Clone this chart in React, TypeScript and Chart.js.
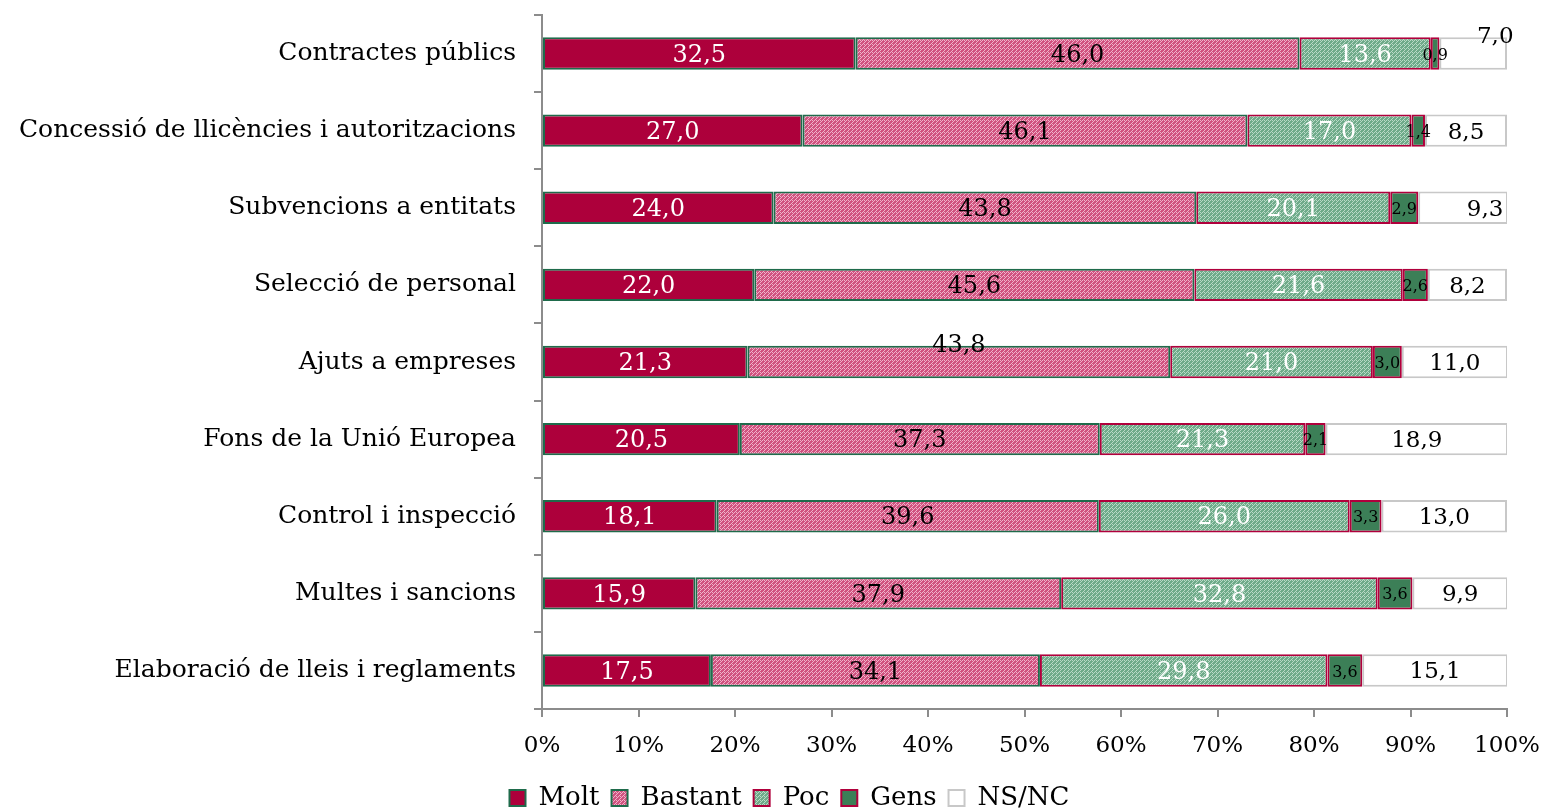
import React, { useEffect, useRef } from "react";
import { Chart, registerables } from "chart.js";

Chart.register(...registerables);

const categories = [
  "Contractes públics",
  "Concessió de llicències i autoritzacions",
  "Subvencions a entitats",
  "Selecció de personal",
  "Ajuts a empreses",
  "Fons de la Unió Europea",
  "Control i inspecció",
  "Multes i sancions",
  "Elaboració de lleis i reglaments",
];

const seriesNames = ["Molt", "Bastant", "Poc", "Gens", "NS/NC"];

const molt = [32.5, 27.0, 24.0, 22.0, 21.3, 20.5, 18.1, 15.9, 17.5];
const bastant = [46.0, 46.1, 43.8, 45.6, 43.8, 37.3, 39.6, 37.9, 34.1];
const poc = [13.6, 17.0, 20.1, 21.6, 21.0, 21.3, 26.0, 32.8, 29.8];
const gens = [0.9, 1.4, 2.9, 2.6, 3.0, 2.1, 3.3, 3.6, 3.6];
const nsnc = [7.0, 8.5, 9.3, 8.2, 11.0, 18.9, 13.0, 9.9, 15.1];

const xTicks = [0, 10, 20, 30, 40, 50, 60, 70, 80, 90, 100];

// label offsets (dataset index, category index) -> [dx, dy]
const labelOffsets: Record<string, [number, number]> = {
  "4-0": [22, -19],
  "1-4": [0, -18],
  "4-2": [22, 0],
};

const FONT = "'DejaVu Serif', serif";

function makePattern(base: string, light: string): CanvasPattern | string {
  const c = document.createElement("canvas");
  c.width = 4;
  c.height = 4;
  const ctx = c.getContext("2d");
  if (!ctx) return base;
  ctx.fillStyle = base;
  ctx.fillRect(0, 0, 4, 4);
  ctx.fillStyle = light;
  const pts = [[0, 0], [2, 0], [0, 2], [1, 1], [3, 3]];
  pts.forEach(([x, y]) => ctx.fillRect(x, y, 1, 1));
  const p = ctx.createPattern(c, "repeat");
  return p || base;
}

export default function App() {
  const ref = useRef<HTMLCanvasElement>(null);

  useEffect(() => {
    document.body.style.margin = "0";
    const canvas = ref.current;
    if (!canvas) return;

    const pinkPat = makePattern("#D0527F", "#F0B2CA");
    const greenPat = makePattern("#6EAA89", "#B8DAC6");

    const values = [molt, bastant, poc, gens, nsnc];
    const bg = ["#AD003B", pinkPat, greenPat, "#3C7F57", "#FFFFFF"];
    const border = ["#1F6B4B", "#1F6B4B", "#B0003C", "#B0003C", "#C8C8C8"];
    const labelColor = ["#FFFFFF", "#000000", "#FFFFFF", "#000000", "#000000"];
    const labelSize = [24, 24, 24, 16, 23];

    const labelPlugin = {
      id: "segLabels",
      afterLayout(chart: any) {
        const lg = chart.legend;
        if (lg) {
          lg.left += 36;
          lg.right += 36;
        }
      },
      afterDatasetsDraw(chart: any) {
        const ctx = chart.ctx;
        ctx.save();
        ctx.textAlign = "center";
        ctx.textBaseline = "middle";
        chart.data.datasets.forEach((ds: any, di: number) => {
          const meta = chart.getDatasetMeta(di);
          meta.data.forEach((el: any, i: number) => {
            const v = ds.data[i];
            const cx = (el.x + el.base) / 2;
            const off = labelOffsets[`${di}-${i}`] || [0, 0];
            ctx.font = `${labelSize[di]}px ${FONT}`;
            ctx.fillStyle = labelColor[di];
            ctx.fillText(v.toFixed(1).replace(".", ","), cx + off[0], el.y + 2 + off[1]);
          });
        });
        ctx.restore();
      },
    };

    const chart = new Chart(canvas, {
      type: "bar",
      data: {
        labels: categories,
        datasets: seriesNames.map((name, di) => ({
          label: name,
          data: values[di],
          backgroundColor: bg[di] as any,
          borderColor: border[di],
          borderWidth: 2,
          borderSkipped: false,
          barPercentage: 0.42,
          categoryPercentage: 1.0,
        })),
      },
      options: {
        indexAxis: "y",
        animation: false,
        responsive: false,
        maintainAspectRatio: false,
        layout: { padding: { top: 15, right: 38, left: 0, bottom: -10 } },
        scales: {
          x: {
            stacked: true,
            min: 0,
            max: 100,
            afterBuildTicks: (s: any) => {
              s.ticks = xTicks.map((v) => ({ value: v }));
            },
            afterFit: (s: any) => {
              s.height = 64;
              s.paddingLeft = 0;
              s.paddingRight = 0;
            },
            ticks: {
              callback: (v: any) => `${v}%`,
              color: "#000",
              font: { family: FONT, size: 23 },
              padding: 15,
              maxRotation: 0,
            },
            grid: {
              drawOnChartArea: false,
              drawTicks: true,
              tickLength: 8,
              color: "#8C8C8C",
              lineWidth: 2,
            },
            border: { color: "#8C8C8C", width: 2 },
          },
          y: {
            stacked: true,
            afterFit: (s: any) => {
              s.width = 542;
              s.paddingTop = 0;
              s.paddingBottom = 0;
            },
            ticks: {
              color: "#000",
              font: { family: FONT, size: 25 },
              padding: 18,
            },
            grid: {
              drawOnChartArea: false,
              drawTicks: true,
              tickLength: 8,
              color: "#8C8C8C",
              lineWidth: 2,
              offset: true,
            },
            border: { color: "#8C8C8C", width: 2 },
          },
        },
        plugins: {
          legend: {
            position: "bottom",
            labels: {
              boxWidth: 16,
              boxHeight: 16,
              padding: 12,
              color: "#000",
              font: { family: FONT, size: 26 },
            },
          },
          tooltip: { enabled: false },
        },
      },
      plugins: [labelPlugin],
    });

    return () => chart.destroy();
  }, []);

  return (
    <div style={{ width: 1545, height: 811 }}>
      <canvas ref={ref} width={1545} height={811} style={{ display: "block" }} />
    </div>
  );
}
